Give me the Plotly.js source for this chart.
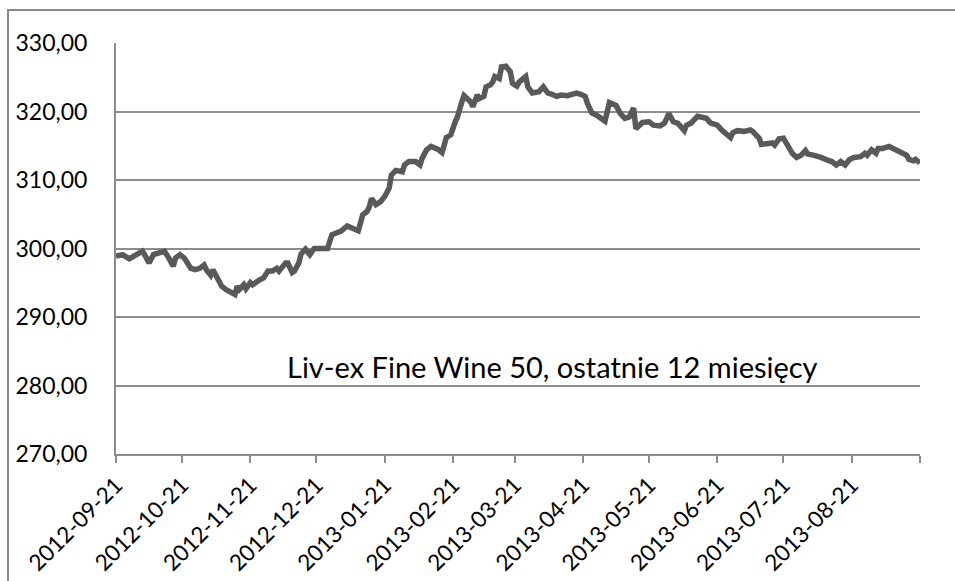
<!DOCTYPE html>
<html>
<head>
<meta charset="utf-8">
<script src="https://cdn.plot.ly/plotly-3.0.1.min.js"></script>
<style>
  html, body { margin: 0; padding: 0; background: #fff; overflow: hidden; }
  #wrap { position: relative; width: 955px; height: 581px; }
  #chart { position: absolute; left: 0; top: 0; width: 955px; height: 581px; }
  #frame { position: absolute; left: 7px; top: 9px; width: 1000px; height: 700px;
           border-left: 2px solid #8a8a8a; border-top: 2px solid #8a8a8a; pointer-events: none; }
</style>
</head>
<body>
<div id="wrap">
  <div id="chart"></div>
  <div id="frame"></div>
</div>
<script>
// Liv-ex Fine Wine 50 index, last 12 months
const dates = [
  '2012-09-21','2012-09-24','2012-09-27','2012-09-30','2012-10-03','2012-10-04','2012-10-06','2012-10-08',
  '2012-10-11','2012-10-13','2012-10-15','2012-10-17','2012-10-18','2012-10-20','2012-10-22','2012-10-25',
  '2012-10-27','2012-10-29','2012-10-31','2012-11-01','2012-11-03','2012-11-04','2012-11-06','2012-11-08',
  '2012-11-10','2012-11-13','2012-11-14','2012-11-15','2012-11-16','2012-11-18','2012-11-19','2012-11-21',
  '2012-11-22','2012-11-25','2012-11-27','2012-11-29','2012-12-01','2012-12-03','2012-12-04','2012-12-07',
  '2012-12-08','2012-12-10','2012-12-11','2012-12-13','2012-12-14','2012-12-16','2012-12-18','2012-12-20',
  '2012-12-23','2012-12-26','2012-12-28','2012-12-30','2013-01-01','2013-01-04','2013-01-07','2013-01-09',
  '2013-01-11','2013-01-13','2013-01-14','2013-01-15','2013-01-17','2013-01-19','2013-01-21','2013-01-23',
  '2013-01-24','2013-01-26','2013-01-29','2013-01-30','2013-02-01','2013-02-04','2013-02-06','2013-02-07',
  '2013-02-09','2013-02-11','2013-02-14','2013-02-16','2013-02-18','2013-02-20','2013-02-22','2013-02-23',
  '2013-02-25','2013-02-26','2013-03-01','2013-03-02','2013-03-04','2013-03-05','2013-03-07','2013-03-08',
  '2013-03-10','2013-03-11','2013-03-12','2013-03-14','2013-03-15','2013-03-17','2013-03-19','2013-03-20',
  '2013-03-22','2013-03-23','2013-03-26','2013-03-27','2013-03-29','2013-03-31','2013-04-01','2013-04-03',
  '2013-04-05','2013-04-07','2013-04-09','2013-04-11','2013-04-14','2013-04-16','2013-04-18','2013-04-20',
  '2013-04-22','2013-04-23','2013-04-25','2013-04-27','2013-04-29','2013-05-01','2013-05-03','2013-05-06',
  '2013-05-08','2013-05-10','2013-05-12','2013-05-14','2013-05-15','2013-05-18','2013-05-21','2013-05-23',
  '2013-05-26','2013-05-28','2013-05-30','2013-06-01','2013-06-03','2013-06-06','2013-06-07','2013-06-09',
  '2013-06-12','2013-06-14','2013-06-16','2013-06-18','2013-06-21','2013-06-23','2013-06-25','2013-06-27',
  '2013-06-28','2013-06-30','2013-07-03','2013-07-06','2013-07-07','2013-07-10','2013-07-11','2013-07-13',
  '2013-07-16','2013-07-17','2013-07-19','2013-07-21','2013-07-23','2013-07-25','2013-07-27','2013-07-29',
  '2013-07-31','2013-08-01','2013-08-04','2013-08-06','2013-08-07','2013-08-10','2013-08-12','2013-08-14',
  '2013-08-16','2013-08-18','2013-08-20','2013-08-22','2013-08-25','2013-08-27','2013-08-28','2013-08-30',
  '2013-09-01','2013-09-02','2013-09-04','2013-09-07','2013-09-09','2013-09-11','2013-09-13','2013-09-15',
  '2013-09-16','2013-09-18','2013-09-19','2013-09-21'
];
const values = [
  298.9,299.1,298.5,299.1,299.6,299.1,297.9,299.1,
  299.4,299.6,298.6,297.4,298.6,299.1,298.6,297.1,
  296.9,297.1,297.6,296.9,296.1,296.9,295.7,294.5,
  294.0,293.4,293.3,294.5,294.0,294.7,294.1,295.0,
  294.7,295.4,295.7,296.7,296.7,297.1,296.7,297.9,
  297.9,296.5,296.7,297.9,299.2,299.9,299.1,300.0,
  300.0,300.0,302.0,302.2,302.5,303.3,302.9,302.6,
  304.9,305.4,306.1,307.3,306.4,306.8,307.6,308.8,
  310.7,311.4,311.2,312.2,312.7,312.7,312.2,313.2,
  314.4,314.9,314.5,314.0,316.2,316.6,318.5,319.2,
  321.4,322.3,321.4,320.7,322.4,321.9,322.2,323.6,
  323.9,324.3,325.1,324.8,326.5,326.6,325.8,324.1,
  323.7,324.3,325.1,323.6,322.7,322.7,322.9,323.6,
  322.7,322.5,322.2,322.4,322.3,322.5,322.7,322.5,
  322.2,321.2,319.8,319.5,319.0,318.6,321.3,320.9,
  319.7,319.0,319.2,320.5,317.5,318.4,318.5,318.0,
  317.9,318.3,319.7,318.5,318.3,317.2,318.0,318.3,
  319.3,319.2,319.0,318.3,318.0,317.3,316.8,316.2,
  316.9,317.2,317.1,317.3,317.1,316.1,315.2,315.2,
  315.4,315.1,316.0,316.1,314.9,313.9,313.3,313.6,
  314.3,313.8,313.6,313.5,313.3,312.9,312.7,312.2,
  312.7,312.2,313.0,313.3,313.4,313.9,313.6,314.4,
  313.9,314.6,314.6,314.9,314.6,314.4,313.9,313.6,
  313.0,312.8,313.0,312.5
];
const tickDates = ['2012-09-21','2012-10-21','2012-11-21','2012-12-21','2013-01-21','2013-02-21',
  '2013-03-21','2013-04-21','2013-05-21','2013-06-21','2013-07-21','2013-08-21','2013-09-21'];
const tickLabels = ['2012-09-21','2012-10-21','2012-11-21','2012-12-21','2013-01-21','2013-02-21',
  '2013-03-21','2013-04-21','2013-05-21','2013-06-21','2013-07-21','2013-08-21',''];
const yTicks = [270, 280, 290, 300, 310, 320, 330];
const chartLabel = 'Liv-ex Fine Wine 50, ostatnie 12 miesięcy';

const FONT = 'Lato, "Open Sans", sans-serif';
const GRID = '#8c8c8c';

Plotly.newPlot('chart', [{
  x: dates,
  y: values,
  type: 'scatter',
  mode: 'lines',
  line: { color: '#595959', width: 5.5 },
  hoverinfo: 'skip'
}], {
  width: 955, height: 581,
  margin: { l: 116, r: 35, t: 43, b: 127 },
  paper_bgcolor: '#ffffff',
  plot_bgcolor: '#ffffff',
  showlegend: false,
  separators: ',.',
  font: { family: FONT, size: 23, color: '#000000' },
  xaxis: {
    type: 'date',
    range: ['2012-09-21', '2013-09-21'],
    tickmode: 'array',
    tickvals: tickDates,
    ticktext: tickLabels,
    tickangle: -45,
    ticks: 'outside', ticklen: 7, tickwidth: 2, tickcolor: GRID,
    showline: true, linecolor: GRID, linewidth: 2,
    showgrid: false, zeroline: false,
    tickfont: { family: FONT, size: 22.5, color: '#000000' }
  },
  yaxis: {
    range: [270, 330],
    tickmode: 'array',
    tickvals: yTicks,
    tickformat: '.2f',
    ticks: '',
    ticklabelstandoff: 22,
    showline: true, linecolor: GRID, linewidth: 2,
    showgrid: true, gridcolor: GRID, gridwidth: 2,
    zeroline: false,
    tickfont: { family: FONT, size: 23, color: '#000000' }
  },
  annotations: [{
    text: chartLabel,
    xref: 'paper', yref: 'paper',
    x: 0.5435, y: 0.212,
    xanchor: 'center', yanchor: 'middle',
    showarrow: false,
    font: { family: FONT, size: 29, color: '#000000' }
  }]
}, { staticPlot: true, displayModeBar: false });
</script>
</body>
</html>
